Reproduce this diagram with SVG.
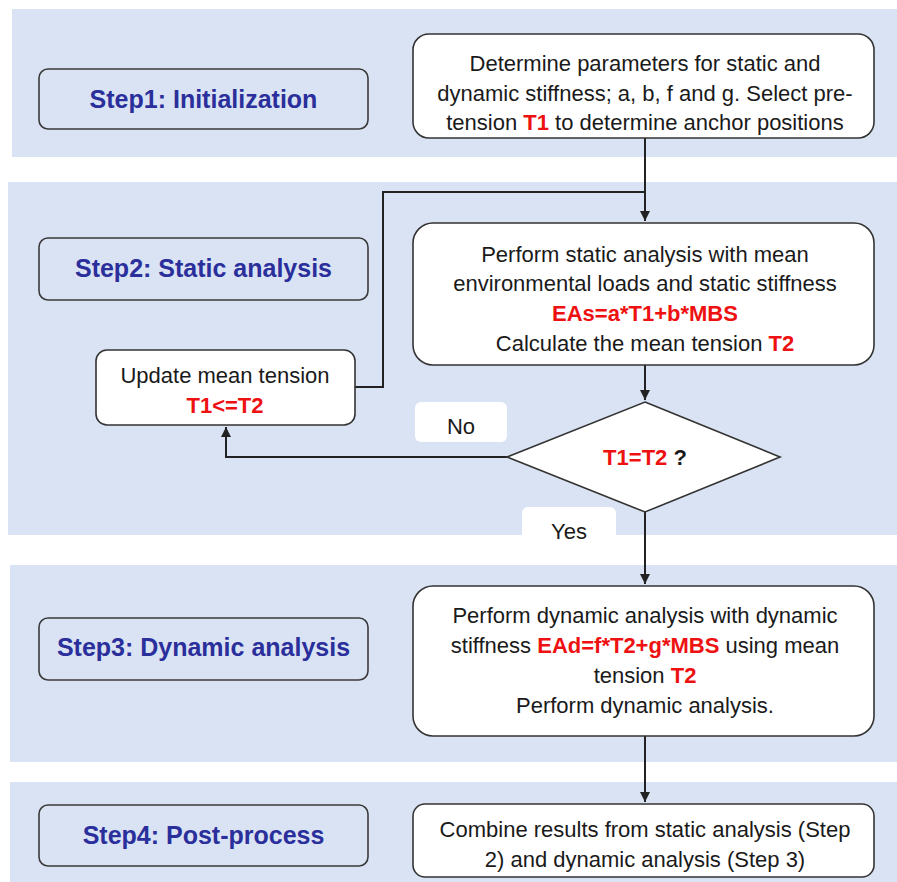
<svg xmlns="http://www.w3.org/2000/svg" width="897" height="882" viewBox="0 0 897 882">
<style>
.band{fill:#dae3f3}
.step{fill:none;stroke:#3a3a3a;stroke-width:1.6}
.stept{font-family:"Liberation Sans",Arial,sans-serif;font-weight:bold;font-size:25px;fill:#2a2f9c;text-anchor:middle}
.box{fill:#fff;stroke:#333;stroke-width:1.6}
.t{font-family:"Liberation Sans",Arial,sans-serif;font-size:22px;fill:#1a1a1a;text-anchor:middle}
.r{fill:#ee1111;font-weight:bold}
.b{font-weight:bold}
.lbl{fill:#fff}
.conn{fill:none;stroke:#222;stroke-width:2}
</style>
<defs>
<marker id="ah" viewBox="0 0 10 10" refX="10" refY="5" markerWidth="5" markerHeight="5" orient="auto" markerUnits="strokeWidth">
<path d="M0,0 L10,5 L0,10 z" fill="#222"/>
</marker>
</defs>
<rect width="897" height="882" fill="#fff"/>
<g id="bands">
<rect class="band" x="12" y="9" width="885" height="148"/>
<rect class="band" x="8" y="182" width="889" height="353"/>
<rect class="band" x="10" y="565" width="887" height="197"/>
<rect class="band" x="10" y="782" width="887" height="100"/>
</g>
<g id="connectors">
<path class="conn" d="M645,138 V221" marker-end="url(#ah)"/>
<path class="conn" d="M355,387 H383 V192 H645"/>
<path class="conn" d="M645,365 V400" marker-end="url(#ah)"/>
<path class="conn" d="M507,457 H226 V427" marker-end="url(#ah)"/>
<path class="conn" d="M645,512 V584" marker-end="url(#ah)"/>
<path class="conn" d="M645,736 V802" marker-end="url(#ah)"/>
</g>
<g id="step1">
<rect class="step" x="39" y="69" width="329" height="60" rx="9"/>
<text class="stept" x="203.5" y="108">Step1: Initialization</text>
</g>
<g id="step2">
<rect class="step" x="39" y="238" width="329" height="62" rx="9"/>
<text class="stept" x="203.5" y="277">Step2: Static analysis</text>
</g>
<g id="step3">
<rect class="step" x="39" y="618" width="329" height="62" rx="9"/>
<text class="stept" x="203.5" y="656">Step3: Dynamic analysis</text>
</g>
<g id="step4">
<rect class="step" x="39" y="805" width="329" height="61" rx="9"/>
<text class="stept" x="203.5" y="844">Step4: Post-process</text>
</g>
<g id="init">
<rect class="box" x="413" y="34" width="461" height="104" rx="16"/>
<text class="t" x="645" y="71">Determine parameters for static and</text>
<text class="t" x="645" y="101">dynamic stiffness; a, b, f and g. Select pre-</text>
<text class="t" x="645" y="130">tension <tspan class="r">T1</tspan> to determine anchor positions</text>
</g>
<g id="static">
<rect class="box" x="413" y="223" width="461" height="142" rx="20"/>
<text class="t" x="645" y="262">Perform static analysis with mean</text>
<text class="t" x="645" y="291">environmental loads and static stiffness</text>
<text class="t r" x="645" y="321">EAs=a*T1+b*MBS</text>
<text class="t" x="645" y="351">Calculate the mean tension <tspan class="r">T2</tspan></text>
</g>
<g id="update">
<rect class="box" x="96" y="350" width="259" height="75" rx="11"/>
<text class="t" x="225" y="383">Update mean tension</text>
<text class="t r" x="225" y="413">T1&lt;=T2</text>
</g>
<g id="decision">
<path class="box" d="M645,402 L780,457 L645,512 L507,457 z"/>
<text class="t b" x="645" y="465"><tspan class="r">T1=T2</tspan> ?</text>
</g>
<g id="no-label">
<rect class="lbl" x="415" y="402" width="92" height="40" rx="6"/>
<text class="t" x="461" y="434">No</text>
</g>
<g id="yes-label">
<rect class="lbl" x="522" y="507" width="94" height="40" rx="6"/>
<text class="t" x="569" y="539">Yes</text>
</g>
<g id="dynamic">
<rect class="box" x="413" y="586" width="461" height="150" rx="20"/>
<text class="t" x="645" y="623">Perform dynamic analysis with dynamic</text>
<text class="t" x="645" y="653">stiffness <tspan class="r">EAd=f*T2+g*MBS</tspan> using mean</text>
<text class="t" x="645" y="683">tension <tspan class="r">T2</tspan></text>
<text class="t" x="645" y="713">Perform dynamic analysis.</text>
</g>
<g id="post">
<rect class="box" x="413" y="804" width="461" height="73" rx="12"/>
<text class="t" x="645" y="837">Combine results from static analysis (Step</text>
<text class="t" x="645" y="867">2) and dynamic analysis (Step 3)</text>
</g>
</svg>
